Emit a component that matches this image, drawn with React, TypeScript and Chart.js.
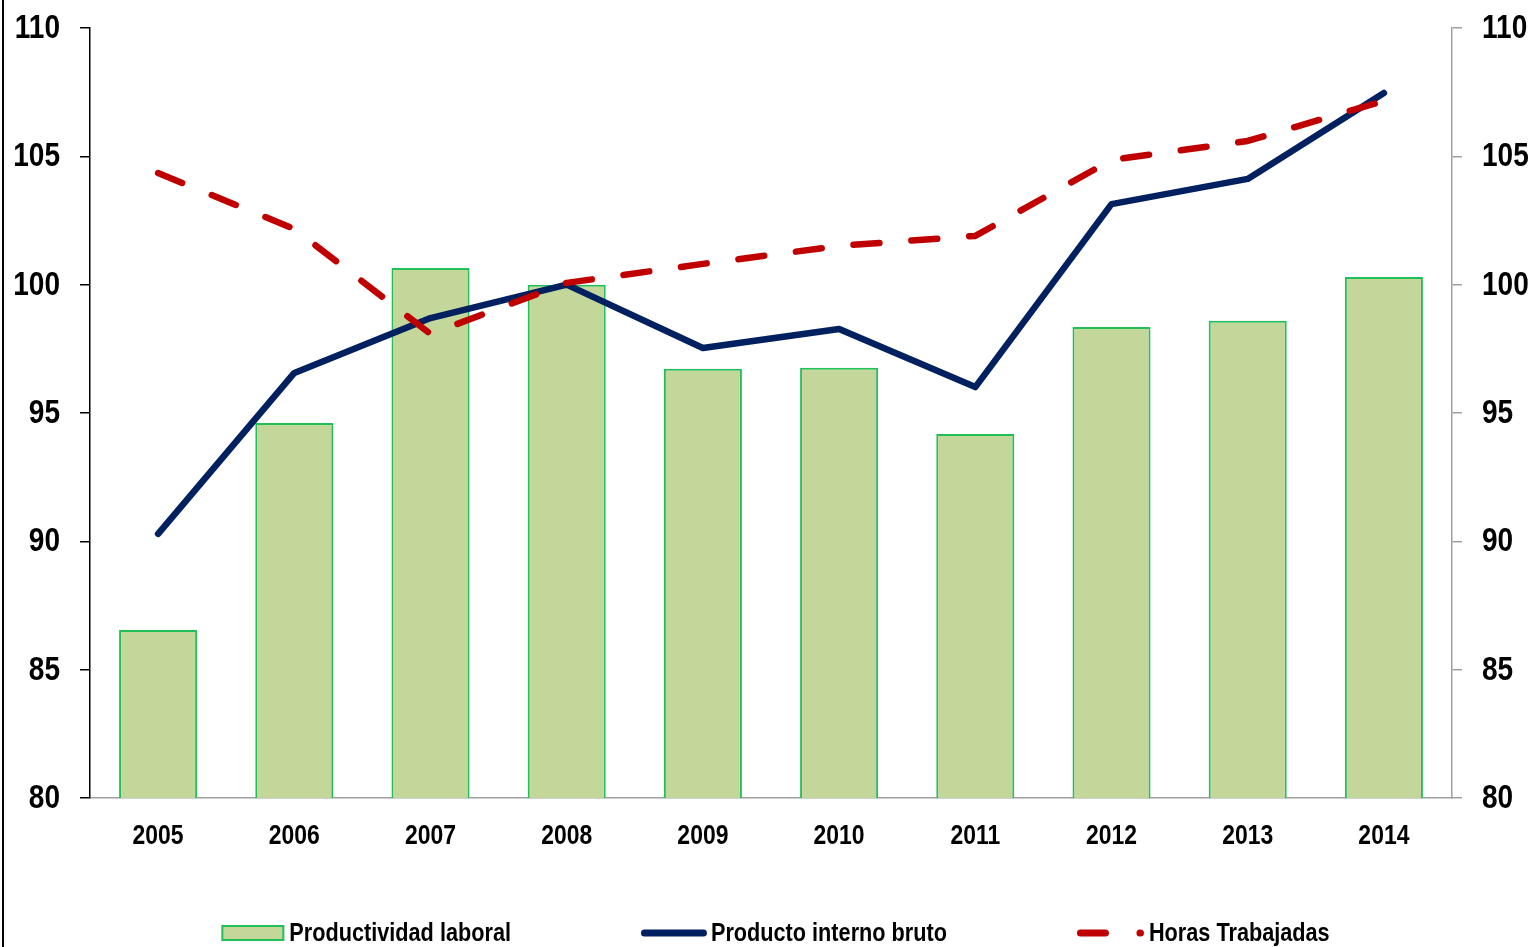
import React, { useEffect, useRef } from "react";
import { Chart, registerables } from "chart.js";

Chart.register(...registerables);

const categories = ["2005", "2006", "2007", "2008", "2009", "2010", "2011", "2012", "2013", "2014"];
const productividad = [86.55, 94.61, 100.65, 100.0, 96.72, 96.76, 94.18, 98.35, 98.59, 100.3];
const pib = [90.29, 96.56, 98.7, 100.0, 97.53, 98.27, 96.01, 103.14, 104.12, 107.47];
const horas = [104.35, 102.17, 98.08, 100.07, 100.81, 101.51, 101.9, 104.86, 105.6, 107.16];
const seriesLabels = ["Productividad laboral", "Producto interno bruto", "Horas Trabajadas"];
const yTickValues = [80, 85, 90, 95, 100, 105, 110];
const yMin = 80;
const yMax = 110;
const yStep = 5;

const FONT = '"Liberation Sans", Arial, sans-serif';
const NARROW = 0.85;
const BAR_FILL = "#C4D79B";
const BAR_BORDER = "#22BE58";
const PIB_COLOR = "#002060";
const HORAS_COLOR = "#C00000";
const DASH = [26, 32];

function narrowText(
  ctx: CanvasRenderingContext2D,
  text: string,
  x: number,
  y: number,
  align: CanvasTextAlign,
  size: number
) {
  ctx.save();
  ctx.font = `bold ${size}px ${FONT}`;
  ctx.fillStyle = "#000";
  ctx.textBaseline = "middle";
  ctx.textAlign = align;
  ctx.translate(x, y);
  ctx.scale(NARROW, 1);
  ctx.fillText(text, 0, 0);
  ctx.restore();
}

function narrowWidth(ctx: CanvasRenderingContext2D, text: string, size: number) {
  ctx.save();
  ctx.font = `bold ${size}px ${FONT}`;
  const w = ctx.measureText(text).width * NARROW;
  ctx.restore();
  return w;
}

const labelsPlugin = {
  id: "narrowLabels",
  afterDraw(chart: any) {
    const ctx = chart.ctx as CanvasRenderingContext2D;
    const y = chart.scales.y;
    const y2 = chart.scales.y2;
    const x = chart.scales.x;
    yTickValues.forEach((v) => {
      narrowText(ctx, String(v), y.right - 30, y.getPixelForValue(v) + 1, "right", 33);
      narrowText(ctx, String(v), y2.left + 30, y2.getPixelForValue(v) + 1, "left", 33);
    });
    categories.forEach((c, i) => {
      narrowText(ctx, c, x.getPixelForValue(i), x.top + 39, "center", 27);
    });
  },
};

const legendPlugin = {
  id: "customLegend",
  afterDraw(chart: any) {
    const ctx = chart.ctx as CanvasRenderingContext2D;
    const ds = chart.data.datasets;
    const size = 25.5;
    const syms = [61, 66, 67];
    const gaps = [6, 4, 5];
    const itemGap = 130;
    const widths = ds.map((d: any, i: number) => syms[i] + gaps[i] + narrowWidth(ctx, d.label, size));
    const total = widths.reduce((a: number, b: number) => a + b, 0) + itemGap * (ds.length - 1);
    const ca = chart.chartArea;
    let x = (ca.left + ca.right) / 2 + 5 - total / 2;
    const yc = 933;
    ds.forEach((d: any, i: number) => {
      ctx.save();
      if (d.type === "bar") {
        ctx.fillStyle = d.backgroundColor;
        ctx.strokeStyle = d.borderColor;
        ctx.lineWidth = 2;
        ctx.fillRect(x, yc - 7, syms[i], 14);
        ctx.strokeRect(x, yc - 7, syms[i], 14);
      } else {
        ctx.strokeStyle = d.borderColor;
        ctx.lineWidth = 7;
        ctx.lineCap = "round";
        if (d.borderDash) ctx.setLineDash([25, 34.5]);
        ctx.beginPath();
        ctx.moveTo(x + 3.5, yc);
        ctx.lineTo(x + syms[i] - 3.5, yc);
        ctx.stroke();
      }
      ctx.restore();
      narrowText(ctx, d.label, x + syms[i] + gaps[i], yc + 1, "left", size);
      x += widths[i] + itemGap;
    });
  },
};

export default function App() {
  const ref = useRef<HTMLCanvasElement | null>(null);

  useEffect(() => {
    if (!ref.current) return;
    const chart = new Chart(ref.current, {
      type: "bar",
      data: {
        labels: categories,
        datasets: [
          {
            type: "bar",
            label: seriesLabels[0],
            data: productividad,
            backgroundColor: BAR_FILL,
            borderColor: BAR_BORDER,
            borderWidth: 2,
            barPercentage: 0.573,
            categoryPercentage: 1,
            order: 3,
            yAxisID: "y",
          },
          {
            type: "line",
            label: seriesLabels[1],
            data: pib,
            borderColor: PIB_COLOR,
            backgroundColor: PIB_COLOR,
            borderWidth: 6.5,
            borderCapStyle: "round",
            borderJoinStyle: "round",
            pointRadius: 0,
            tension: 0,
            order: 2,
            yAxisID: "y",
          },
          {
            type: "line",
            label: seriesLabels[2],
            data: horas,
            borderColor: HORAS_COLOR,
            backgroundColor: HORAS_COLOR,
            borderWidth: 6.5,
            borderDash: DASH,
            borderCapStyle: "round",
            borderJoinStyle: "round",
            pointRadius: 0,
            tension: 0,
            order: 1,
            yAxisID: "y",
          },
        ] as any,
      },
      options: {
        responsive: false,
        animation: false,
        events: [],
        layout: { padding: { top: 28, left: 0, right: 0, bottom: 0 } },
        plugins: {
          legend: { display: false },
          tooltip: { enabled: false },
        },
        scales: {
          x: {
            grid: { display: true, drawOnChartArea: false, drawTicks: false, color: "#A0A0A0" },
            border: { color: "#A0A0A0", width: 1.5 },
            ticks: { display: false },
            afterFit: (s: any) => {
              s.height = 149;
            },
          },
          y: {
            position: "left",
            min: yMin,
            max: yMax,
            grid: { display: true, drawOnChartArea: false, drawTicks: true, tickLength: 10, color: "#000", lineWidth: 1.5 },
            border: { color: "#000", width: 1.5 },
            ticks: { stepSize: yStep, display: false },
            afterFit: (s: any) => {
              s.width = 90;
            },
          },
          y2: {
            position: "right",
            min: yMin,
            max: yMax,
            grid: { display: true, drawOnChartArea: false, drawTicks: true, tickLength: 10, color: "#A0A0A0", lineWidth: 1.5 },
            border: { color: "#A0A0A0", width: 1.5 },
            ticks: { stepSize: yStep, display: false },
            afterFit: (s: any) => {
              s.width = 82;
            },
          },
        },
      } as any,
      plugins: [labelsPlugin, legendPlugin],
    });
    return () => chart.destroy();
  }, []);

  return (
    <div style={{ position: "fixed", left: 0, top: 0, width: 1534, height: 947, background: "#fff" }}>
      <canvas ref={ref} width={1534} height={947} style={{ display: "block", width: 1534, height: 947 }} />
      <div style={{ position: "absolute", left: 2, top: 0, width: 2, height: 947, background: "#000" }} />
    </div>
  );
}
